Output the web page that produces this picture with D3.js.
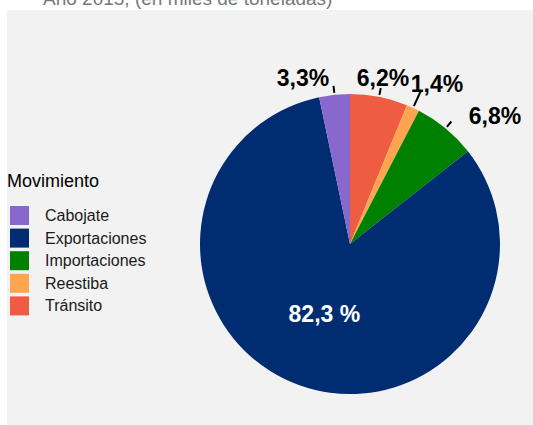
<!DOCTYPE html>
<html>
<head>
<meta charset="utf-8">
<script src="https://cdn.jsdelivr.net/npm/d3@7"></script>
<style>
  html, body { margin: 0; padding: 0; background: #ffffff; }
  svg { display: block; font-family: "Liberation Sans", Arial, sans-serif; }
</style>
</head>
<body>
<svg id="chart" width="533" height="425"></svg>
<script>
// ---- data ----
const categories = ["Cabojate", "Exportaciones", "Importaciones", "Reestiba", "Tránsito"];
const values = [3.3, 82.3, 6.8, 1.4, 6.2];
const colors = ["#8968CD", "#002D72", "#008000", "#FFA54F", "#EE5C42"];
const labels = ["3,3%", "82,3 %", "6,8%", "1,4%", "6,2%"];
const titleText = "Año 2015, (en miles de toneladas)";
const legendTitle = "Movimiento";

// ---- layout ----
const W = 533, H = 425;
const cx = 350, cy = 244, R = 150;
const svg = d3.select("#chart");

svg.append("rect").attr("x", 7).attr("y", 10).attr("width", W - 7).attr("height", H - 10)
  .attr("fill", "#f2f2f2");

svg.append("text").attr("x", 43).attr("y", 5).attr("fill", "#777")
  .attr("font-size", 19).text(titleText);

const color = d3.scaleOrdinal().domain(categories).range(colors);

const rows = categories.map((c, i) => ({cat: c, value: values[i], label: labels[i]}));
const pieOrder = rows.slice().reverse();

const pie = d3.pie().sort(null).value(d => d.value).startAngle(0).endAngle(2 * Math.PI);
const arcs = pie(pieOrder);
const arc = d3.arc().innerRadius(0).outerRadius(R);

const g = svg.append("g").attr("transform", `translate(${cx},${cy})`);
g.selectAll("path.slice").data(arcs).enter().append("path")
  .attr("class", "slice")
  .attr("d", arc)
  .attr("fill", d => color(d.data.cat));

// outside labels
const nudge = {
  "Cabojate": [-29.4, 3.1],
  "Tránsito": [0.1, 0.8],
  "Reestiba": [15.6, -5.7],
  "Importaciones": [36.7, 2.9]
};
const segOuter = {"Reestiba": 168};
const polar = (r, a) => [r * Math.sin(a), -r * Math.cos(a)];

arcs.forEach(d => {
  const a = (d.startAngle + d.endAngle) / 2;
  if (d.data.cat === "Exportaciones") {
    const c = arc.centroid(d);
    g.append("text").attr("x", c[0]).attr("y", c[1])
      .attr("text-anchor", "middle").attr("dominant-baseline", "central")
      .attr("font-size", 23).attr("font-weight", "bold").attr("fill", "#ffffff")
      .text(d.data.label);
    return;
  }
  const p1 = polar(152, a);
  const p2 = polar(segOuter[d.data.cat] || 159, a);
  g.append("line").attr("x1", p1[0]).attr("y1", p1[1]).attr("x2", p2[0]).attr("y2", p2[1])
    .attr("stroke", "#000").attr("stroke-width", 2);
  const b = polar(170, a);
  const n = nudge[d.data.cat] || [0, 0];
  g.append("text").attr("x", b[0] + n[0]).attr("y", b[1] + n[1])
    .attr("text-anchor", "middle").attr("dominant-baseline", "central")
    .attr("font-size", 23).attr("font-weight", "bold").attr("fill", "#000")
    .text(d.data.label);
});

// legend
svg.append("text").attr("x", 7).attr("y", 187).attr("font-size", 18).attr("fill", "#000")
  .text(legendTitle);
const ly = d3.scaleBand().domain(categories).range([204.5, 204.5 + 22.6 * categories.length]);
const lg = svg.append("g");
categories.forEach(c => {
  const y = ly(c);
  lg.append("rect").attr("x", 10).attr("y", y + 1.5).attr("width", 19).attr("height", 19)
    .attr("fill", color(c));
  lg.append("text").attr("x", 45).attr("y", y + 11).attr("dominant-baseline", "central")
    .attr("font-size", 16).attr("fill", "#1a1a1a").text(c);
});
</script>
</body>
</html>
